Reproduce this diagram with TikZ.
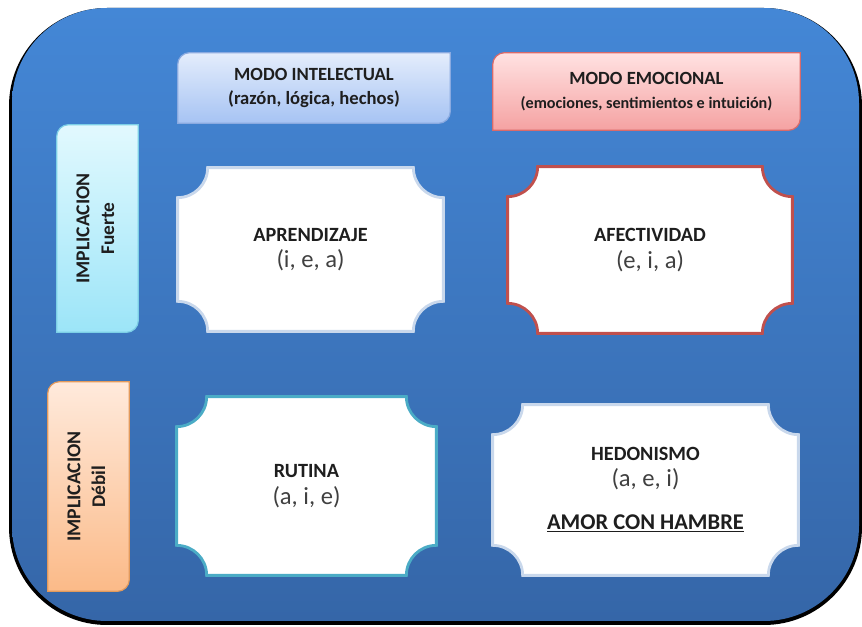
\documentclass[tikz,border=0pt]{standalone}
\usepackage{fontspec}
\setmainfont{Carlito}
\usetikzlibrary{positioning, calc, backgrounds}

\definecolor{panelTop}{HTML}{4487D6}
\definecolor{panelBot}{HTML}{3566A8}
\definecolor{textDark}{HTML}{1E1E1E}
\definecolor{textGray}{HTML}{404040}
\definecolor{intelTop}{HTML}{E4EDFC}
\definecolor{intelBot}{HTML}{A6C3F3}
\definecolor{intelLine}{HTML}{8AAAE0}
\definecolor{emoTop}{HTML}{FFE2E2}
\definecolor{emoBot}{HTML}{F5A2A2}
\definecolor{emoLine}{HTML}{D96A6A}
\definecolor{strongTop}{HTML}{E2F9FE}
\definecolor{strongBot}{HTML}{9CE5F8}
\definecolor{strongLine}{HTML}{7CCFE6}
\definecolor{weakTop}{HTML}{FFEADC}
\definecolor{weakBot}{HTML}{FBBA88}
\definecolor{weakLine}{HTML}{E39A5C}
\definecolor{redLine}{HTML}{C0504D}
\definecolor{tealLine}{HTML}{4BACC6}
\definecolor{paleLine}{HTML}{C9D8EC}

% one unit = one pixel of the reference
\newcommand{\pxu}{0.2mm}

% header / side panel: top-left and bottom-right corners rounded
\newcommand{\diagpath}[1]{(#1.south west) -- ($(#1.north west)+(0,-12)$)
  arc[start angle=180, end angle=90, radius=12] -- (#1.north east)
  -- ($(#1.south east)+(0,12)$) arc[start angle=0, end angle=-90, radius=12] -- cycle}
\newcommand{\diagpanel}[4]{%
  \fill[black, opacity=0.3, xshift=0.3mm, yshift=-0.5mm] \diagpath{#1};
  \shade[top color=#2, bottom color=#3, draw=#4, line width=0.7pt] \diagpath{#1};}

% ticket: four concave corners
\newcommand{\ticketpath}[1]{($(#1.north west)+(0,-30)$)
  arc[start angle=270, end angle=360, radius=30] -- ($(#1.north east)+(-30,0)$)
  arc[start angle=180, end angle=270, radius=30] -- ($(#1.south east)+(0,30)$)
  arc[start angle=90, end angle=180, radius=30] -- ($(#1.south west)+(30,0)$)
  arc[start angle=0, end angle=90, radius=30] -- cycle}
\newcommand{\ticketframe}[2]{%
  \filldraw[fill=white, draw=#2, line width=1.6pt] \ticketpath{#1};}

\newcommand{\ticketname}{\bfseries\fontsize{11.5}{14}\selectfont}
\newcommand{\ticketcode}{\fontsize{14}{17}\selectfont\color{textGray}}
\newcommand{\sidename}{\bfseries\fontsize{11.2}{13}\selectfont}
\newcommand{\sidelevel}{\bfseries\fontsize{11}{13}\selectfont}

\begin{document}
\begin{tikzpicture}[
  x=\pxu, y=\pxu,
  header/.style = {inner sep=0, align=center, text=textDark, font=\bfseries\fontsize{10.6}{13}\selectfont},
  side/.style = {inner sep=0, align=center, text=textDark},
  ticket/.style = {inner sep=0, align=center, text=textDark}
]
\useasboundingbox (0,0) rectangle (862,627);

%--------------------------------------------------
% blue panel
%--------------------------------------------------
\begin{pgfonlayer}{background}
\fill[black, rounded corners=19.6mm] (9,2) rectangle (862,619);
\shade[top color=panelTop, bottom color=panelBot, rounded corners=19mm] (12,6) rectangle (859,619);
\end{pgfonlayer}

%--------------------------------------------------
% column headers
%--------------------------------------------------
\node[header, minimum width=272*\pxu, minimum height=70*\pxu] (h_intel) at (314,539)
  {MODO INTELECTUAL\\[1pt](razón, lógica, hechos)};

\node[header, minimum width=307*\pxu, minimum height=77*\pxu] (h_emo) at (646.5,535.5)
  {MODO EMOCIONAL\\[1pt]{\fontsize{9.2}{12}\selectfont(emociones, sentimientos e intuición)}};

%--------------------------------------------------
% row headers
%--------------------------------------------------
\node[side, minimum width=81*\pxu, minimum height=207*\pxu] (s_strong) at (97.5,398.5)
  {\rotatebox{90}{\begin{tabular}{@{}c@{}}\sidename IMPLICACION\\[2pt]
   \sidelevel Fuerte\end{tabular}}};

\node[side, minimum width=81*\pxu, minimum height=209*\pxu] (s_weak) at (88.5,140.5)
  {\rotatebox{90}{\begin{tabular}{@{}c@{}}\sidename IMPLICACION\\[2pt]
   \sidelevel Débil\end{tabular}}};

%--------------------------------------------------
% quadrants
%--------------------------------------------------
\node[ticket, minimum width=265*\pxu, minimum height=163*\pxu] (q_learn) at (310.5,377.5)
  {{\ticketname APRENDIZAJE}\\[3pt]{\ticketcode (i, e, a)}};

\node[ticket, minimum width=284*\pxu, minimum height=166*\pxu] (q_affect) at (650,377)
  {{\ticketname AFECTIVIDAD}\\[3pt]{\ticketcode (e, i, a)}};

\node[ticket, minimum width=259*\pxu, minimum height=178*\pxu] (q_routine) at (306.5,141)
  {{\ticketname RUTINA}\\[3pt]{\ticketcode (a, i, e)}};

\node[ticket, minimum width=305*\pxu, minimum height=170*\pxu] (q_pleasure) at (645.5,137)
  {{\ticketname HEDONISMO}\\[3pt]{\ticketcode (a, e, i)}\\[12pt]
   {\bfseries\fontsize{12.8}{15}\selectfont\underline{AMOR CON HAMBRE}}};

%--------------------------------------------------
% shapes behind the texts
%--------------------------------------------------
\begin{pgfonlayer}{background}
\diagpanel{h_intel}{intelTop}{intelBot}{intelLine}
\diagpanel{h_emo}{emoTop}{emoBot}{emoLine}
\diagpanel{s_strong}{strongTop}{strongBot}{strongLine}
\diagpanel{s_weak}{weakTop}{weakBot}{weakLine}

\ticketframe{q_learn}{paleLine}
\ticketframe{q_affect}{redLine}
\ticketframe{q_routine}{tealLine}
\ticketframe{q_pleasure}{paleLine}
\end{pgfonlayer}

\end{tikzpicture}
\end{document}
